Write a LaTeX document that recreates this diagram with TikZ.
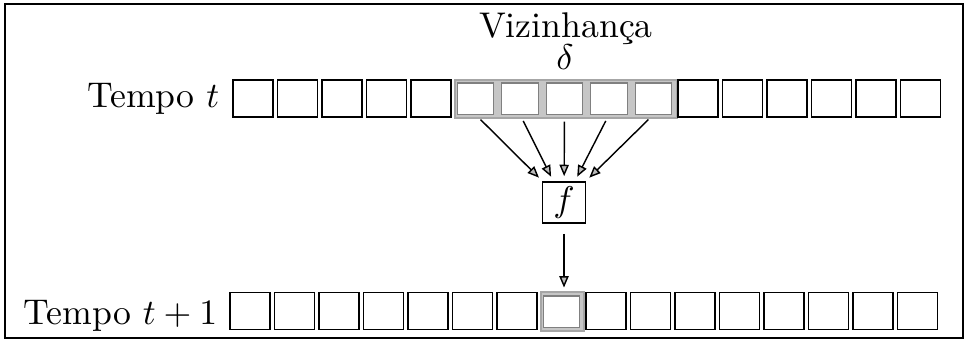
\documentclass[tikz,border=0pt]{standalone}
\usetikzlibrary{arrows.meta}
\begin{document}
\begin{tikzpicture}[x=0.28pt,y=-0.28pt,
  cellbox/.style={draw=black, line width=0.45pt, minimum width=11.2pt, minimum height=10.4pt, inner sep=0pt, fill=white},
  hicell/.style={draw=black!50, line width=0.3pt, minimum width=10.3pt, minimum height=8.7pt, inner sep=0pt, fill=white},
  hiband/.style={fill=gray!45, draw=gray!70, line width=0.3pt},
  funcbox/.style={draw, line width=0.45pt, minimum width=12pt, minimum height=11.5pt, inner sep=0pt},
  lbl/.style={inner sep=0pt, font=\fontsize{10}{12}\selectfont},
  flow/.style={line width=0.4pt, -{Triangle[length=3.2pt,width=2.6pt,fill=gray!55]}}]
\useasboundingbox (0,0) rectangle (966,345);
% outer frame
\draw[line width=0.4pt] (5,4) rectangle (963,338);

% grey bands marking the neighbourhood and the updated cell
\fill[hiband] (455,80) rectangle (677,118);
\fill[hiband] (541,292) rectangle (584,331);

% row at time t
\foreach \i in {1,2,3,4,5,11,12,13,14,15,16}
  \node[cellbox] (t\i) at ({253+44.5*(\i-1)},98.5) {};
\foreach \i in {6,...,10}
  \node[hicell] (t\i) at ({253+44.5*(\i-1)},98.5) {};

% row at time t+1
\foreach \i in {1,2,3,4,5,6,7,9,10,11,12,13,14,15,16}
  \node[cellbox] (b\i) at ({250+44.5*(\i-1)},311) {};
\node[hicell] (b8) at ({250+44.5*7},311.5) {};

% labels
\node[lbl, anchor=base east] (lt) at (220,107) {Tempo $t$};
\node[lbl, anchor=base east] (lt1) at (218,324) {Tempo $t+1$};
\node[lbl, anchor=base] (viz) at (566,37) {Vizinhança};
\node[lbl, anchor=base] (delta) at (565,69) {$\delta$};

% transition function
\node[funcbox, lbl] (f) at (564,202.5) {$f$};

\foreach \i in {6,...,10}
  \draw[flow, shorten <=2pt, shorten >=1.4pt] (t\i.south) -- (f);
\draw[flow, shorten <=2.8pt, shorten >=2.2pt] (f.south) -- (f.south |- b8.north);
\end{tikzpicture}
\end{document}
